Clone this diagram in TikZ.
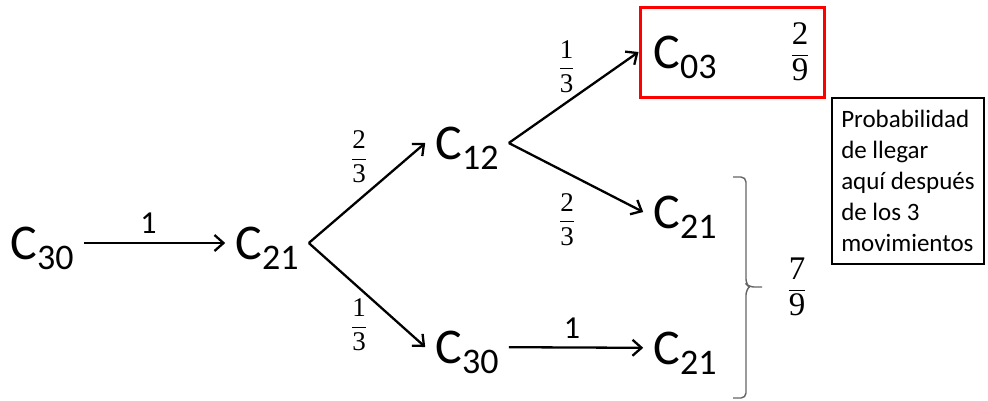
\documentclass[tikz,border=0pt]{standalone}
\usepackage{amsmath}
\usepackage[no-math]{fontspec}
\setmainfont{Carlito}
\newfontfamily\fracfont{Liberation Serif}
\usepackage{tikz}
\usetikzlibrary{arrows, arrows.meta, positioning}
\definecolor{boxred}{RGB}{255, 0, 0}
\definecolor{bracegray}{RGB}{100, 100, 100}

\newcommand{\cstate}[1]{C\raisebox{-10pt}{\fontsize{36}{36}\selectfont #1}}
\newcommand{\pfrac}[2]{$\dfrac{\text{\fracfont #1}}{\text{\fracfont #2}}$}

\begin{document}
\begin{tikzpicture}[x=1pt, y=-1pt, >={Straight Barb[length=9pt, width=16pt]},
    state/.style={inner xsep=10pt, inner ysep=0pt, text height=42pt, text depth=10pt,
                  font=\fontsize{50}{50}\selectfont},
    move/.style={->, line width=2.3pt},
    weight/.style={inner sep=0pt, font=\fontsize{27}{27}\selectfont},
    certain/.style={inner sep=0pt, font=\fontsize{32}{32}\selectfont},
    total/.style={inner sep=0pt, font=\fontsize{33}{33}\selectfont}]

\useasboundingbox (0,0) rectangle (988,400);

% States after each move
\node[state] (c30) at (42,243) {\cstate{30}};
\node[state] (c21) at (267,243) {\cstate{21}};
\node[state] (c12) at (467,143) {\cstate{12}};
\node[state] (c30b) at (467,347) {\cstate{30}};

% Highlighted outcome
\node[draw=boxred, line width=3pt, minimum width=184pt, minimum height=90pt] (goal) at (732,52) {};
\node[state] (c03) at (685,52) {\cstate{03}};
\node[total] (p29) at (800,52) {\pfrac{2}{9}};

\node[state] (c21m) at (685,212) {\cstate{21}};
\node[state] (c21b) at (685,348) {\cstate{21}};

% Moves
\draw[move] (c30) -- (c21)
      node[certain, midway, xshift=-6pt, yshift=20pt] (w1) {1};
\draw[move] (c21.east) -- (c12.west)
      node[weight, midway, xshift=-8pt, yshift=36pt] (w2) {\pfrac{2}{3}};
\draw[move] (c21.east) -- (c30b.west)
      node[weight, midway, xshift=-8pt, yshift=-30pt] (w3) {\pfrac{1}{3}};
\draw[move] (c12.east) -- (goal.west)
      node[weight, midway, xshift=-7pt, yshift=31pt] (w4) {\pfrac{1}{3}};
\draw[move] (c12.east) -- (c21m.west)
      node[weight, midway, xshift=-9pt, yshift=-42pt] (w5) {\pfrac{2}{3}};
\draw[move] (c30b) -- (c21b)
      node[certain, midway, xshift=-4pt, yshift=19pt] (w6) {1};

% Sum of the other two outcomes
\coordinate (top) at (733,177);
\coordinate (tip) at (762,287);
\coordinate (bottom) at (733,398);
\draw[bracegray, line width=1.4pt, rounded corners=5pt]
      (top) -- (746,177) -- (746,284) -- (749,287) -- (tip);
\draw[bracegray, line width=1.4pt, rounded corners=5pt]
      (749,287) -- (746,290) -- (746,398) -- (bottom);
\node[total] (p79) at (797,287) {\pfrac{7}{9}};

% Note
\node[draw, line width=1.2pt, minimum width=152pt, minimum height=166pt,
      align=left, font=\fontsize{25}{31}\selectfont]
      (note) at (908,181)
      {Probabilidad\\de llegar\\aquí después\\de los 3\\movimientos};

\end{tikzpicture}
\end{document}
